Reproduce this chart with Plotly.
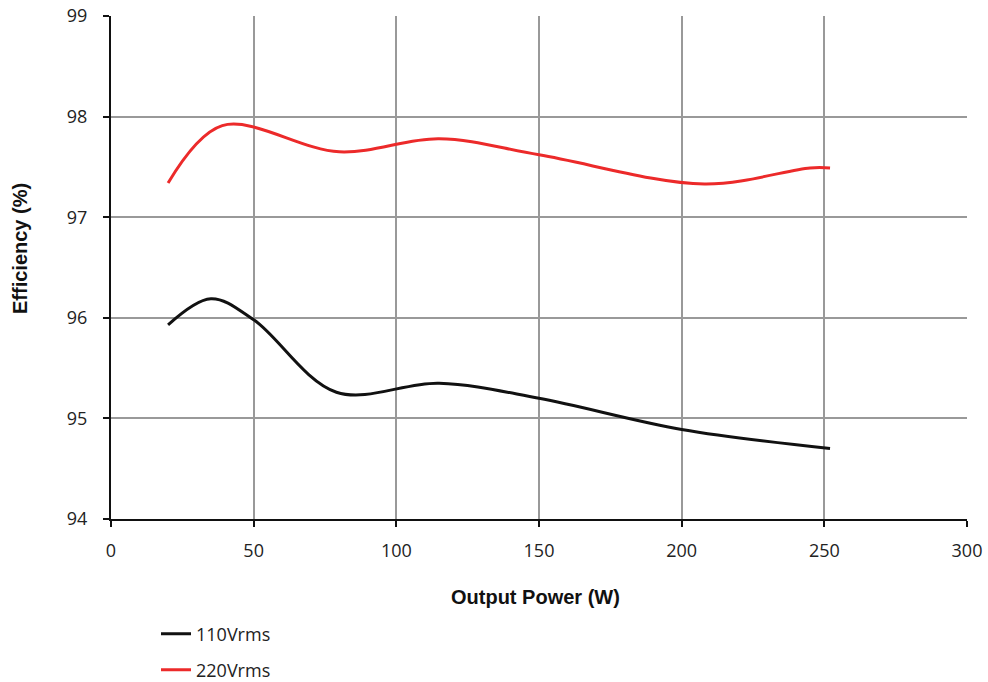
import plotly.graph_objects as go

# Data
power_110 = [20, 35, 50, 79, 115, 150, 200, 252]
eff_110 = [95.93, 96.19, 95.98, 95.26, 95.35, 95.20, 94.89, 94.70]

power_220 = [20, 39, 80, 115, 150, 208, 245, 252]
eff_220 = [97.34, 97.91, 97.65, 97.78, 97.62, 97.33, 97.49, 97.49]

x_ticks = [0, 50, 100, 150, 200, 250, 300]
y_ticks = [94, 95, 96, 97, 98, 99]

fig = go.Figure()
fig.add_trace(go.Scatter(x=power_110, y=eff_110, mode="lines", name="110Vrms",
                         line=dict(color="#111111", width=3, shape="spline", smoothing=1.0),
                         legend="legend"))
fig.add_trace(go.Scatter(x=power_220, y=eff_220, mode="lines", name="220Vrms",
                         line=dict(color="#ec2a2a", width=3, shape="spline", smoothing=1.0),
                         legend="legend2"))

tickfont = dict(family="Open Sans, Liberation Sans, sans-serif", size=18, color="#222")
titlefont = dict(family="Liberation Sans, Arial, sans-serif", size=20, color="#111", weight="bold")

axis_common = dict(showgrid=True, gridcolor="#999999", gridwidth=1.5,
                   showline=True, linecolor="#111", linewidth=2, ticks="outside", ticklen=6,
                   tickwidth=2, tickcolor="#111", tickfont=tickfont, zeroline=False,
                   automargin=False)

L, T, W, H = 111, 16, 856, 503

fig.update_layout(
    width=988, height=682,
    margin=dict(l=L, r=988 - L - W, t=T, b=682 - T - H, autoexpand=False),
    paper_bgcolor="white", plot_bgcolor="white",
    xaxis=dict(range=[0, 300], tickvals=x_ticks, ticklabelstandoff=8, **axis_common),
    yaxis=dict(range=[94, 99], tickvals=y_ticks, ticklabelstandoff=12, **axis_common),
    legend=dict(x=(156 - L) / W, y=(T + H - 634) / H,
                xanchor="left", yanchor="middle", bgcolor="rgba(0,0,0,0)", font=tickfont),
    legend2=dict(x=(156 - L) / W, y=(T + H - 670) / H,
                 xanchor="left", yanchor="middle", bgcolor="rgba(0,0,0,0)", font=tickfont),
    showlegend=True,
    annotations=[
        dict(text="Output Power (W)", xref="paper", yref="paper", x=(535 - L) / W,
             y=(T + H - 597) / H, xanchor="center", yanchor="middle", showarrow=False,
             font=titlefont),
        dict(text="Efficiency (%)", xref="paper", yref="paper", x=(20 - L) / W,
             y=(T + H - 249) / H, xanchor="center", yanchor="middle", showarrow=False,
             textangle=-90, font=titlefont),
    ],
)

fig.write_html("out.html")
